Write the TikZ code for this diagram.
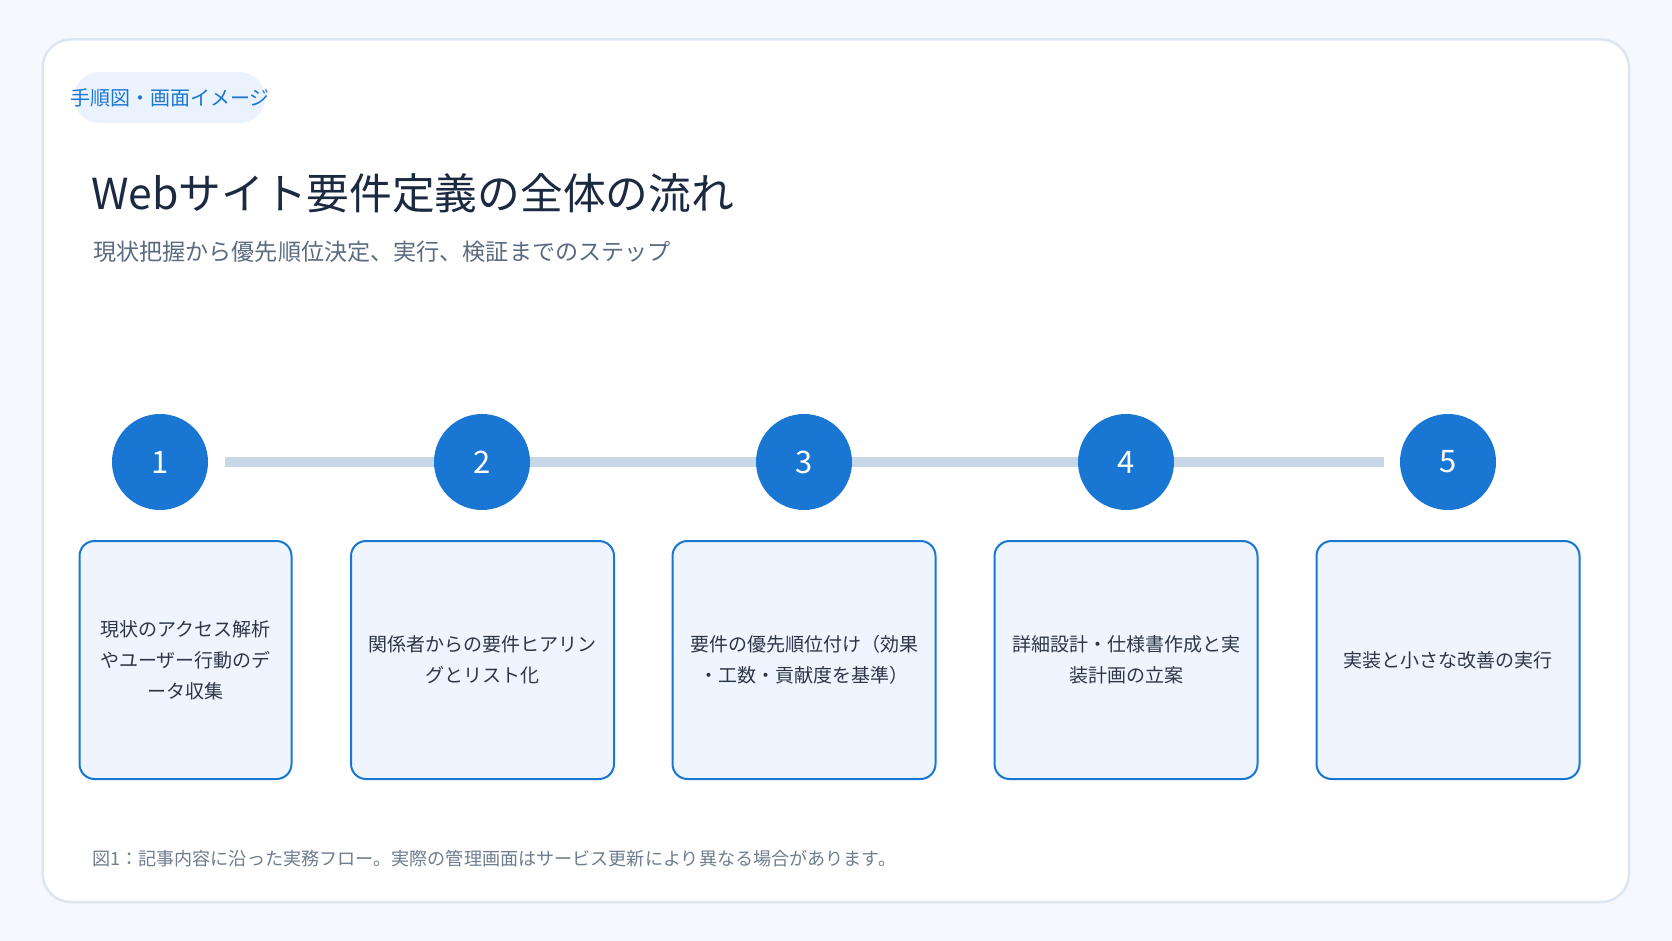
\documentclass[tikz,border=0pt]{standalone}
\usepackage{fontspec}
\setmainfont{Noto Sans CJK JP}
\usetikzlibrary{backgrounds}
\definecolor{pagebg}{HTML}{F5F8FC}
\definecolor{cardline}{HTML}{DCE6F0}
\definecolor{stepblue}{HTML}{1976D2}
\definecolor{trackgray}{HTML}{C8D7E6}
\definecolor{boxfill}{HTML}{EEF5FE}
\definecolor{tagfill}{HTML}{EAF3FD}
\definecolor{titleink}{HTML}{1B2A41}
\definecolor{subink}{HTML}{5B6B7F}
\definecolor{bodyink}{HTML}{2B3648}
\definecolor{noteink}{HTML}{6F7D8E}
\begin{document}
\begin{tikzpicture}[x=1pt,y=-1pt,
	stepdot/.style={circle,fill=stepblue,text=white,minimum size=96pt,inner sep=0pt,font=\fontsize{31}{31}\selectfont},
	stepcard/.style={draw=stepblue,line width=2pt,fill=boxfill,rounded corners=15pt,minimum width=263pt,minimum height=238pt,align=center,text=bodyink,font=\fontsize{19}{31}\selectfont},
	track/.style={trackgray,line width=10pt}]
	\useasboundingbox (0,0) rectangle (1672,941);
	\begin{scope}[on background layer]
		\fill [pagebg] (0,0) rectangle (1672,941);
		\draw [cardline,line width=2.5pt,fill=white,rounded corners=28pt] (42.7,39.5) rectangle (1629,902);
		\fill [tagfill,rounded corners=25.5pt] (74,72) rectangle (265,123);
	\end{scope}
	\node [text=stepblue,font=\fontsize{20}{20}\selectfont,inner sep=0pt] (tag) at (170,97.5) {手順図・画面イメージ};
	\node [anchor=west,text=titleink,font=\fontsize{42.7}{42.7}\selectfont,inner sep=0pt] (title) at (91,193) {Webサイト要件定義の全体の流れ};
	\node [anchor=west,text=subink,font=\fontsize{23.1}{23.1}\selectfont,inner sep=0pt] (subtitle) at (93,252) {現状把握から優先順位決定、実行、検証までのステップ};
	\node [stepdot] (s1) at (160,462) {1};
	\node [stepdot] (s2) at (482,462) {2};
	\node [stepdot] (s3) at (804,462) {3};
	\node [stepdot] (s4) at (1126,462) {4};
	\node [stepdot] (s5) at (1448,462) {5};
	\begin{scope}[on background layer]
		\draw [track,shorten <=17pt,shorten >=16pt] (s1) -- (s5);
	\end{scope}
	\node [stepcard,minimum width=212pt] (c1) at (185.5,660) {現状のアクセス解析\\やユーザー行動のデ\\ータ収集};
	\node [stepcard] (c2) at (482.5,660) {関係者からの要件ヒアリン\\グとリスト化};
	\node [stepcard] (c3) at (804,660) {要件の優先順位付け（効果\\・工数・貢献度を基準）};
	\node [stepcard] (c4) at (1126,660) {詳細設計・仕様書作成と実\\装計画の立案};
	\node [stepcard] (c5) at (1448,660) {実装と小さな改善の実行};
	\node [anchor=west,text=noteink,font=\fontsize{18.1}{18.1}\selectfont,inner sep=0pt] (note) at (92,859) {図1：記事内容に沿った実務フロー。実際の管理画面はサービス更新により異なる場合があります。};
\end{tikzpicture}
\end{document}
